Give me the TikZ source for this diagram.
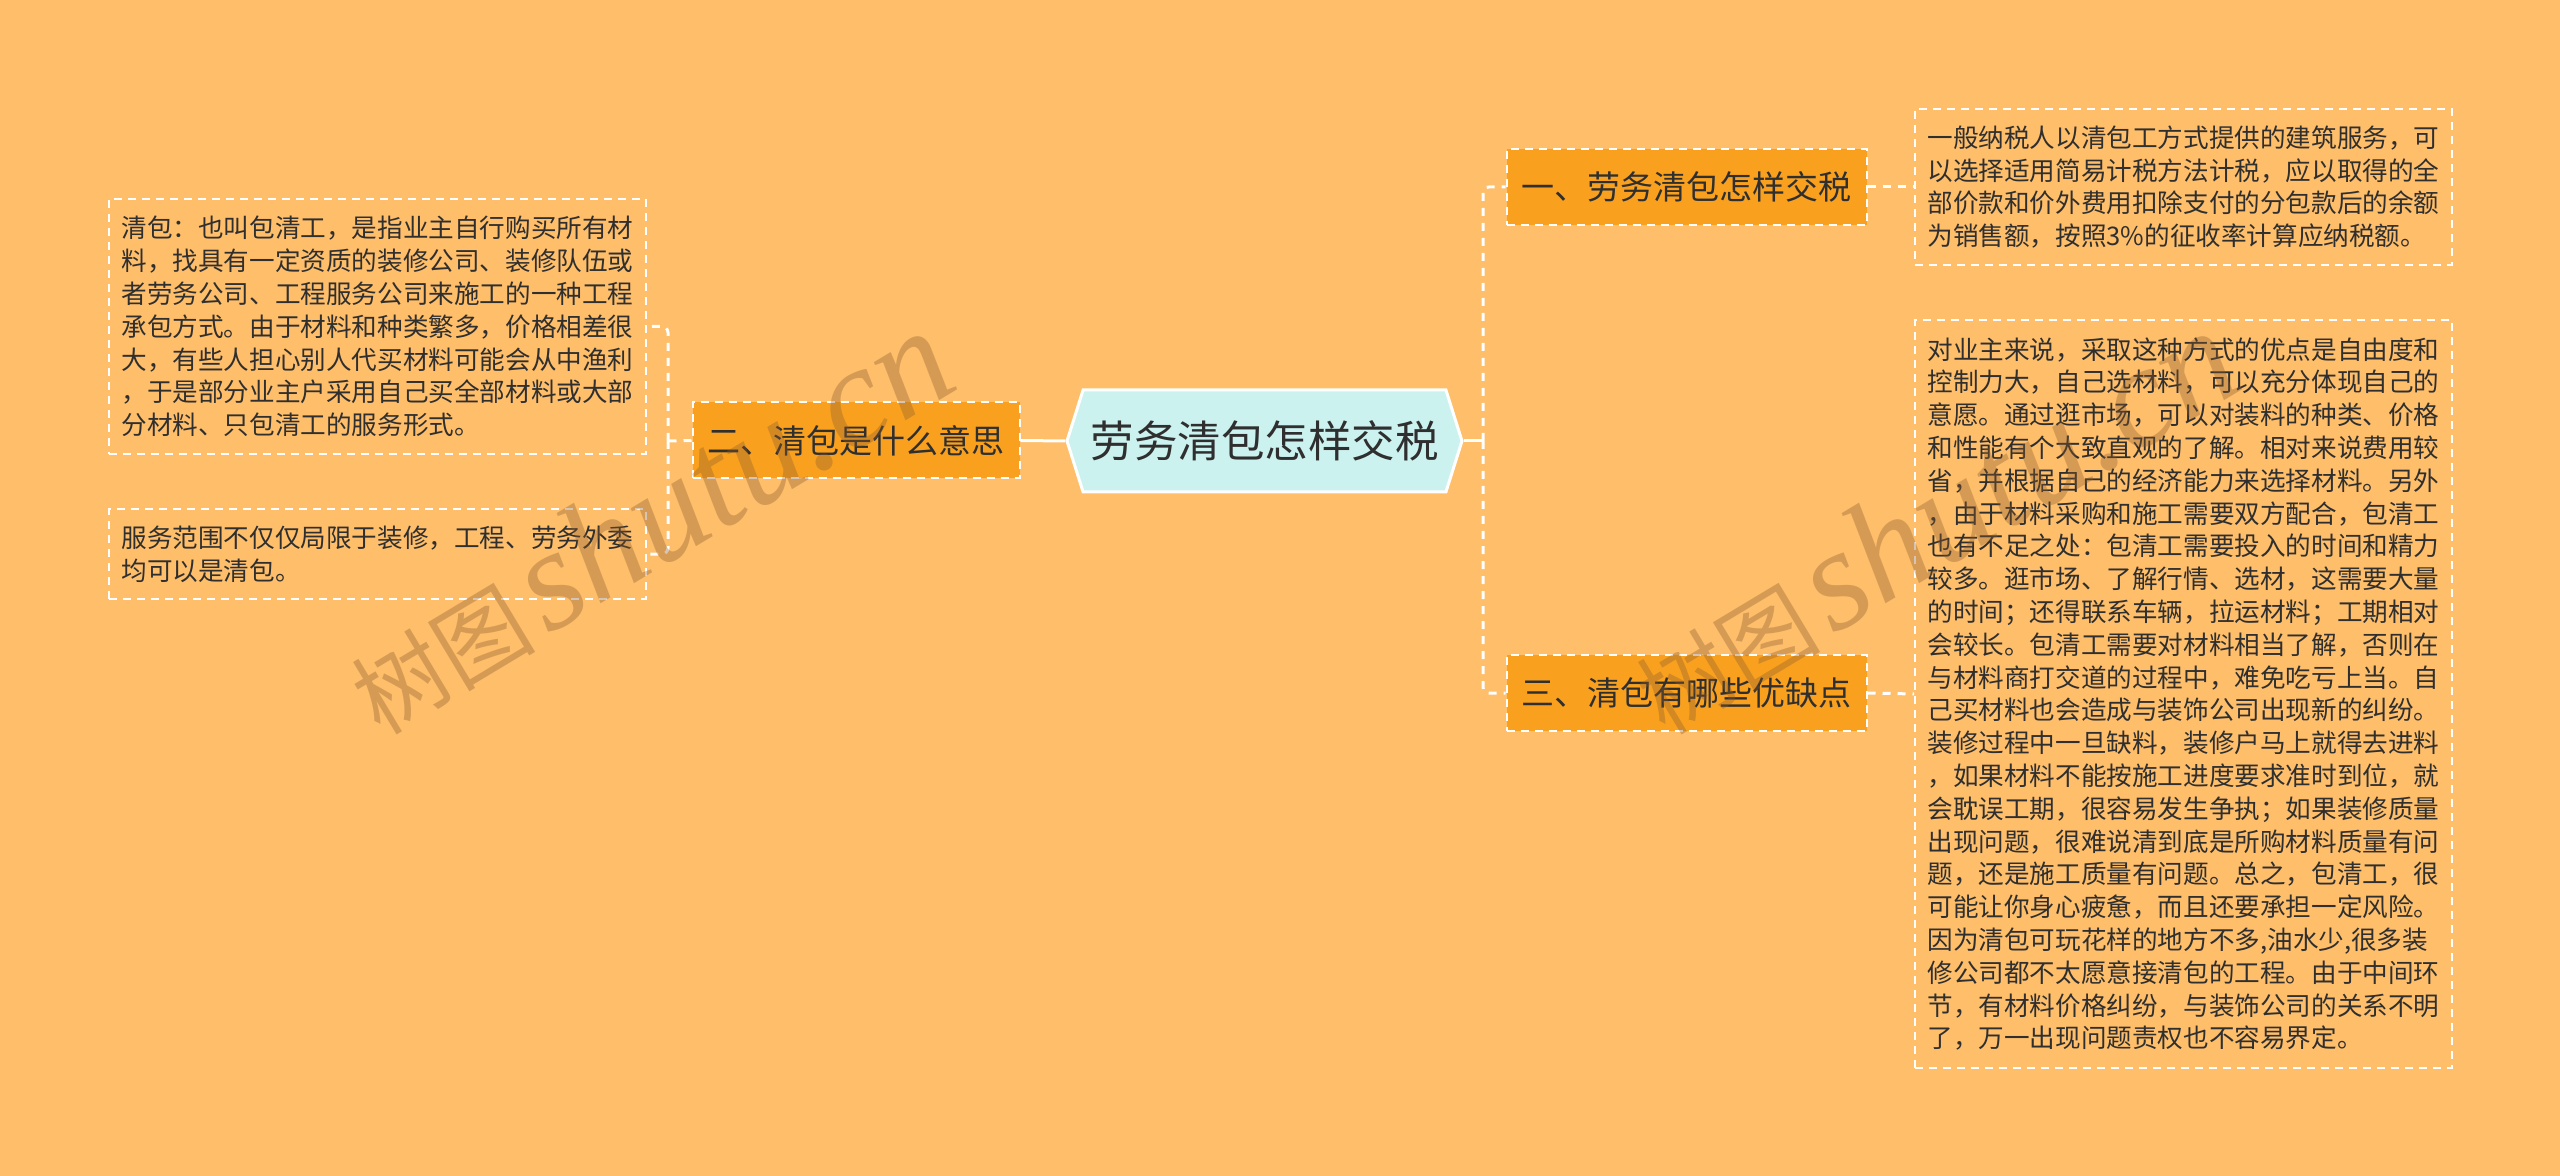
\documentclass[tikz,border=0pt]{standalone}
\usepackage{fontspec}
\setmainfont{Noto Sans CJK SC}
\newfontfamily\wmfont{Liberation Serif}
\usetikzlibrary{shapes.symbols}
\definecolor{bgorange}{HTML}{FEBE6A}
\definecolor{topicfill}{HTML}{F9A11F}
\definecolor{rootfill}{HTML}{CCF2F0}
\definecolor{inktext}{HTML}{2F2F2F}
\definecolor{wmbrown}{HTML}{8B5A2B}

\tikzset{
  rootnode/.style={signal,signal to=east and west,signal pointer angle=145,
    fill=rootfill,draw=white,line width=1.5pt,minimum width=197.5pt,
    minimum height=51pt,inner sep=0pt,text=inktext,
    font=\fontsize{21.75}{26}\selectfont},
  topic/.style={fill=topicfill,draw=white,dash pattern=on 4pt off 3pt,
    line width=1pt,inner xsep=7.5pt,inner ysep=0pt,minimum height=38pt,
    text=inktext,font=\fontsize{16.5}{20}\selectfont},
  leafbox/.style={draw=white,dash pattern=on 4pt off 3pt,line width=1pt,
    text width=256pt,inner xsep=6.25pt,inner ysep=0pt,align=left,
    text=inktext,font=\fontsize{12.8}{16.4}\selectfont},
  trunk/.style={white,line width=1.5pt},
  twig/.style={white,line width=1.5pt,dash pattern=on 4pt off 3.5pt,
    rounded corners=3pt},
  watermark/.style={wmbrown,opacity=0.35,rotate=31,inner sep=0pt}
}

\begin{document}
\begin{tikzpicture}[x=0.5pt,y=-0.5pt]
  % canvas
  \fill[bgorange] (0,0) rectangle (2560,1176);
  \useasboundingbox (0,0) rectangle (2560,1176);

  % centre
  \node[rootnode] (root) at (1264.5,441) {劳务清包怎样交税};

  % topics
  \node[topic] (b2) at (856,440.5) {二、清包是什么意思};
  \node[topic] (b1) at (1686.5,187) {一、劳务清包怎样交税};
  \node[topic] (b3) at (1686.5,693) {三、清包有哪些优缺点};

  % left leaves
  \node[leafbox,minimum height=127.5pt] (l1) at (377.5,326.5) {清包：也叫包清工，是指业主自行购买所有材\\料，找具有一定资质的装修公司、装修队伍或\\者劳务公司、工程服务公司来施工的一种工程\\承包方式。由于材料和种类繁多，价格相差很\\大，有些人担心别人代买材料可能会从中渔利\\，于是部分业主户采用自己买全部材料或大部\\分材料、只包清工的服务形式。};
  \node[leafbox,minimum height=45pt] (l2) at (377.5,554) {服务范围不仅仅局限于装修，工程、劳务外委\\均可以是清包。};

  % right leaves
  \node[leafbox,minimum height=78pt] (r1) at (2183.5,187) {一般纳税人以清包工方式提供的建筑服务，可\\以选择适用简易计税方法计税，应以取得的全\\部价款和价外费用扣除支付的分包款后的余额\\为销售额，按照3\%的征收率计算应纳税额。};
  \node[leafbox,minimum height=374pt] (r2) at (2183.5,694) {对业主来说，采取这种方式的优点是自由度和\\控制力大，自己选材料，可以充分体现自己的\\意愿。通过逛市场，可以对装料的种类、价格\\和性能有个大致直观的了解。相对来说费用较\\省，并根据自己的经济能力来选择材料。另外\\，由于材料采购和施工需要双方配合，包清工\\也有不足之处：包清工需要投入的时间和精力\\较多。逛市场、了解行情、选材，这需要大量\\的时间；还得联系车辆，拉运材料；工期相对\\会较长。包清工需要对材料相当了解，否则在\\与材料商打交道的过程中，难免吃亏上当。自\\己买材料也会造成与装饰公司出现新的纠纷。\\装修过程中一旦缺料，装修户马上就得去进料\\，如果材料不能按施工进度要求准时到位，就\\会耽误工期，很容易发生争执；如果装修质量\\出现问题，很难说清到底是所购材料质量有问\\题，还是施工质量有问题。总之，包清工，很\\可能让你身心疲惫，而且还要承担一定风险。\\因为清包可玩花样的地方不多,油水少,很多装\\修公司都不太愿意接清包的工程。由于中间环\\节，有材料价格纠纷，与装饰公司的关系不明\\了，万一出现问题责权也不容易界定。};

  % connectors
  \coordinate (lsp) at (668,441);
  \coordinate (rsp) at (1483,441);
  \draw[trunk] (root.west) -- (b2.east);
  \draw[trunk] (root.east) -- (rsp);
  \draw[twig] (b2.west) -- (lsp);
  \draw[twig] (lsp) |- (l1.east);
  \draw[twig] (lsp) |- (l2.east);
  \draw[twig] (rsp) |- (b1.west);
  \draw[twig] (rsp) |- (b3.west);
  \draw[twig] (b1.east) -- (r1.west);
  \draw[twig] (b3.east) -- (r2.west);

  % watermarks
  \node[watermark] (wm1) at (648,522) {{\fontsize{46}{48}\selectfont 树图}\hspace{6pt}{\wmfont\itshape\fontsize{72}{74}\selectfont shutu.cn}};
  \node[watermark] (wm2) at (1933,522) {{\fontsize{46}{48}\selectfont 树图}\hspace{6pt}{\wmfont\itshape\fontsize{72}{74}\selectfont shutu.cn}};
\end{tikzpicture}
\end{document}
